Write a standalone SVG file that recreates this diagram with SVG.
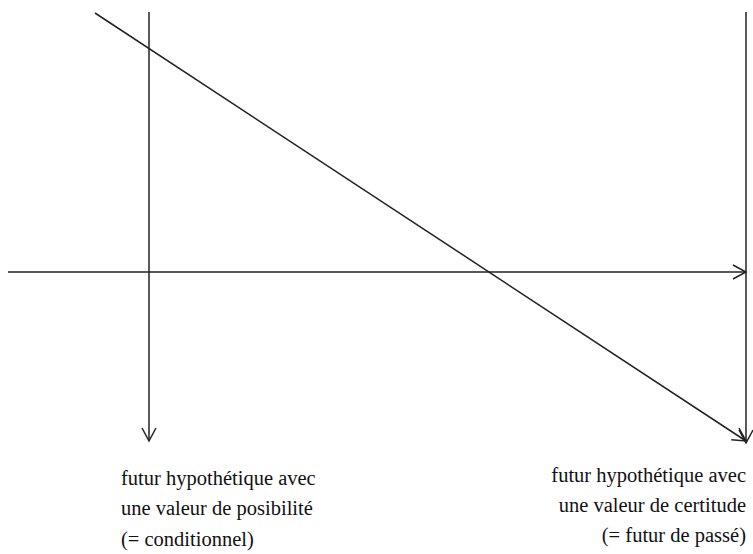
<svg xmlns="http://www.w3.org/2000/svg" width="753" height="554" viewBox="0 0 753 554">
<style>
.ln{stroke:#222;stroke-width:1.5;fill:none}
.ah{stroke:#222;stroke-width:1.5;fill:none}
</style>
<defs>
<marker id="arr" markerWidth="16" markerHeight="16" refX="14" refY="8" orient="auto" markerUnits="userSpaceOnUse">
<path d="M1,1 L14,8 L1,15" class="ah"/>
</marker>
</defs>
<rect width="753" height="554" fill="#fff"/>
<g id="connectors">
<line class="ln" x1="149" y1="12" x2="149" y2="441" marker-end="url(#arr)"/>
<line class="ln" x1="746" y1="12" x2="746" y2="443" marker-end="url(#arr)"/>
<line class="ln" x1="8" y1="272" x2="746" y2="272" marker-end="url(#arr)"/>
<line class="ln" x1="95" y1="13" x2="746" y2="441" marker-end="url(#arr)"/>
</g>
<g id="label-left">
<text x="121" y="485" font-family="Liberation Serif" font-size="20.5" fill="#111">futur hypothétique avec</text>
<text x="121" y="515" font-family="Liberation Serif" font-size="20.5" fill="#111">une valeur de posibilité</text>
<text x="121" y="546" font-family="Liberation Serif" font-size="20.5" fill="#111">(= conditionnel)</text>
</g>
<g id="label-right">
<text x="746" y="482" font-family="Liberation Serif" font-size="20.5" fill="#111" text-anchor="end">futur hypothétique avec</text>
<text x="746" y="512" font-family="Liberation Serif" font-size="20.5" fill="#111" text-anchor="end">une valeur de certitude</text>
<text x="746" y="542" font-family="Liberation Serif" font-size="20.5" fill="#111" text-anchor="end">(= futur de passé)</text>
</g>
</svg>
